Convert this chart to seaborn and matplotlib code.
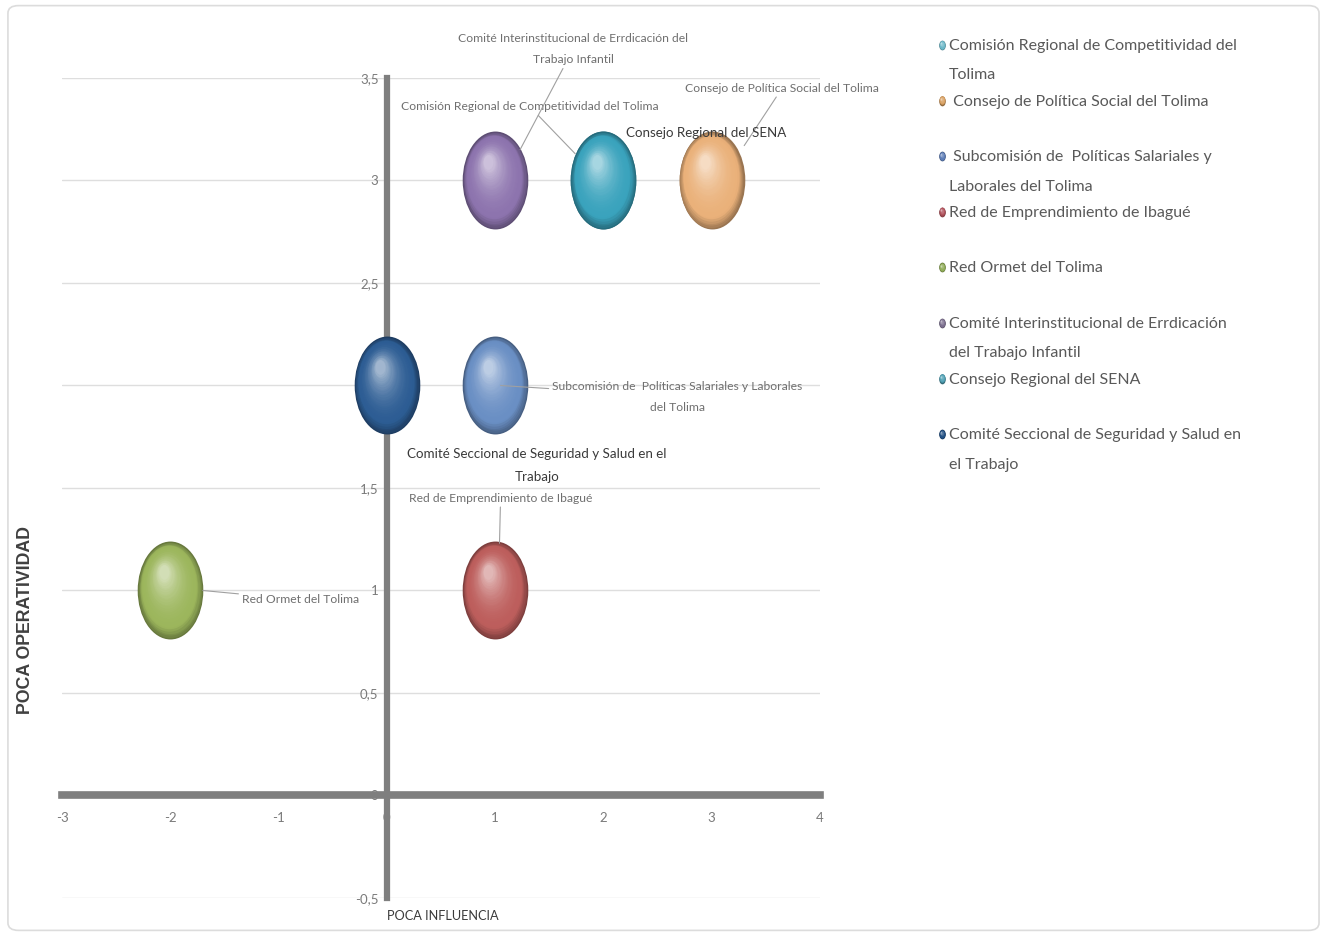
import numpy as np
import pandas as pd
import matplotlib
matplotlib.use("Agg")
import matplotlib.pyplot as plt
import seaborn as sns
from matplotlib.path import Path
from matplotlib.transforms import Affine2D, ScaledTranslation
from matplotlib.patches import FancyBboxPatch
from matplotlib import font_manager as fm
import matplotlib.colors as mcolors

# ---------------- data ----------------
names = [
    "Comisión Regional de Competitividad del Tolima",
    "Consejo de Política Social del Tolima",
    "Subcomisión de  Políticas Salariales y Laborales del Tolima",
    "Red de Emprendimiento de Ibagué",
    "Red Ormet del Tolima",
    "Comité Interinstitucional de Errdicación del Trabajo Infantil",
    "Consejo Regional del SENA",
    "Comité Seccional de Seguridad y Salud en el Trabajo",
]
influencia = [2, 3, 1, 1, -2, 1, 2, 0]
operatividad = [3, 3, 2, 1, 1, 3, 3, 2]
bubble_colors = ["#5fbdd2", "#eab17a", "#6a8fc4", "#bd5e5c", "#9cb65c",
                 "#8d74ae", "#3aa3bd", "#2d5d94"]
legend_labels = [
    "Comisión Regional de Competitividad del\nTolima",
    " Consejo de Política Social del Tolima",
    " Subcomisión de  Políticas Salariales y\nLaborales del Tolima",
    "Red de Emprendimiento de Ibagué",
    "Red Ormet del Tolima",
    "Comité Interinstitucional de Errdicación\ndel Trabajo Infantil",
    "Consejo Regional del SENA",
    "Comité Seccional de Seguridad y Salud en\nel Trabajo",
]
legend_colors = ["#6cb8c8", "#d9a060", "#5b7bb5", "#b0505a", "#8eaa55",
                 "#7b6e8e", "#4d9fb3", "#1f4e82"]
x_ticks = [-3, -2, -1, 0, 1, 2, 3, 4]
y_ticks = [-0.5, 0, 0.5, 1, 1.5, 2, 2.5, 3, 3.5]
y_tick_labels = ["-0,5", "0", "0,5", "1", "1,5", "2", "2,5", "3", "3,5"]
x_label = "POCA INFLUENCIA"
y_label = "POCA OPERATIVIDAD"

# data-label layout (text position, leader target offset from bubble, style)
label_texts = [
    "Comisión Regional de Competitividad del Tolima",
    "Consejo de Política Social del Tolima",
    "Subcomisión de  Políticas Salariales y Laborales\ndel Tolima",
    "Red de Emprendimiento de Ibagué",
    "Red Ormet del Tolima",
    "Comité Interinstitucional de Errdicación del\nTrabajo Infantil",
    "Consejo Regional del SENA",
    "Comité Seccional de Seguridad y Salud en el\nTrabajo",
]
label_pos = [(1.32, 3.36), (3.65, 3.45), (2.68, 1.945), (1.05, 1.45),
             (-0.80, 0.955), (1.72, 3.64), (2.95, 3.23), (1.385, 1.61)]
leader_off = [(-0.26, 0.13), (0.30, 0.17), (0.05, 0.0), (0.04, 0.23),
              (0.30, 0.0), (0.23, 0.15), None, None]
label_strong = [False, False, False, False, False, False, True, True]

# ---------------- fonts ----------------
avail = {f.name for f in fm.fontManager.ttflist}
narrow = "Lato" if "Lato" in avail else "DejaVu Sans"
wide = "Liberation Sans" if "Liberation Sans" in avail else "DejaVu Sans"

sns.set_theme(style="white")
plt.rcParams["font.family"] = [narrow, "DejaVu Sans"]

fig = plt.figure(figsize=(13.23, 9.36), dpi=100)
fig.patch.set_facecolor("white")
fig.patches.append(FancyBboxPatch((0.006, 0.006), 0.991, 0.988,
                                  boxstyle="round,pad=0,rounding_size=0.008",
                                  transform=fig.transFigure, facecolor="none",
                                  edgecolor="#dcdcdc", lw=1.2))

ax = fig.add_axes([0.0469, 0.0406, 0.5729, 0.8761])
df = pd.DataFrame({"name": names, "x": influencia, "y": operatividad})

# ellipse marker
circle = Path.unit_circle()
ell = Affine2D().scale(0.67, 1.0).transform_path(circle)

H_PT = 70.5


def shade(c, t):
    rgb = np.array(mcolors.to_rgb(c))
    dark = rgb * 0.66
    light = rgb + (1 - rgb) * 0.55
    if t < 0.18:
        u = t / 0.18
        return tuple(dark + (rgb - dark) * u)
    u = (t - 0.18) / 0.82
    return tuple(rgb + (light - rgb) * u ** 2.0)


def draw_spheres(axx, xs, ys, cols, hpt, nlayer, z0, use_sns=False, data=None):
    s0 = hpt ** 2
    wpt = hpt * 0.67
    for k in range(nlayer):
        t = k / (nlayer - 1)
        f = 1 - 0.85 * t
        dx = -(1 - f) * 0.12 * wpt / 72
        dy = (1 - f) * 0.22 * hpt / 72
        tr = axx.transData + ScaledTranslation(dx, dy, fig.dpi_scale_trans)
        cs = [shade(c, t) for c in cols]
        if use_sns and k == 0:
            sns.scatterplot(data=data, x="x", y="y", hue="name",
                            palette=dict(zip(data["name"], cs)),
                            marker=ell, s=s0, linewidth=0, ax=axx,
                            legend=False, zorder=z0, clip_on=False)
        else:
            axx.scatter(xs, ys, s=s0 * f * f, c=cs, marker=ell, linewidths=0,
                        transform=tr, zorder=z0 + k * 0.01, clip_on=False)


# draw bubbles in series order so later series sit on top
for i in range(len(names)):
    draw_spheres(ax, [influencia[i]], [operatividad[i]], [bubble_colors[i]],
                 H_PT, 30, 3 + i, use_sns=True, data=df.iloc[[i]])

ax.set_xlim(-3, 4)
ax.set_ylim(-0.5, 3.5)
ax.set_xticks(x_ticks)
ax.set_xticklabels([str(v) for v in x_ticks])
ax.set_yticks(y_ticks)
ax.set_yticklabels(y_tick_labels)
for side in ["top", "right"]:
    ax.spines[side].set_visible(False)
ax.spines["left"].set_position(("data", 0))
ax.spines["bottom"].set_position(("data", 0))
ax.spines["left"].set_linewidth(4.5)
ax.spines["bottom"].set_linewidth(5.5)
ax.spines["left"].set_color("#7f7f7f")
ax.spines["bottom"].set_color("#7f7f7f")
ax.spines["left"].set_zorder(2.6)
ax.spines["bottom"].set_zorder(2.6)
ax.yaxis.grid(True, color="#dedede", lw=1.0)
ax.xaxis.grid(False)
ax.set_axisbelow(True)
ax.tick_params(axis="both", length=3, width=1, color="#8a8a8a",
               labelcolor="#7a7a7a", labelsize=9.5, pad=3)
ax.tick_params(axis="x", pad=9)
ax.set_xlabel("")
ax.set_ylabel("")

# data labels
for i in range(len(names)):
    tx, ty = label_pos[i]
    col = "#3a3a3a" if label_strong[i] else "#6f6f6f"
    fs = 9.6 if label_strong[i] else 8.7
    if leader_off[i] is None:
        ax.text(tx, ty, label_texts[i], ha="center", va="center", fontsize=fs,
                color=col, zorder=20, linespacing=2.1, clip_on=False)
    else:
        ox, oy = leader_off[i]
        ax.annotate(label_texts[i],
                    xy=(influencia[i] + ox, operatividad[i] + oy),
                    xytext=(tx, ty), textcoords="data",
                    ha="center", va="center", fontsize=fs, color=col,
                    zorder=20, linespacing=2.1, annotation_clip=False,
                    arrowprops=dict(arrowstyle="-", color="#a0a0a0", lw=0.8,
                                    shrinkA=0, shrinkB=0))

# axis titles
fig.text(0.019, 0.3376, y_label, rotation=90, ha="center", va="center",
         fontsize=12.8, fontweight="bold", color="#404040", family=[wide, "DejaVu Sans"])
ax.text(0.0, -0.5, x_label, ha="left", va="top", fontsize=9.2, color="#3a3a3a",
        transform=ax.transData + ScaledTranslation(0, -9 / 72, fig.dpi_scale_trans),
        clip_on=False)

# legend (manual, to keep marker on the first line of each entry)
lax = fig.add_axes([0, 0, 1, 1], zorder=30)
lax.set_xlim(0, 1323)
lax.set_ylim(936, 0)
lax.axis("off")
lax.patch.set_alpha(0)
for i, (lab, c) in enumerate(zip(legend_labels, legend_colors)):
    yy = 45 + 55.6 * i
    draw_spheres(lax, [942], [yy], [c], 7.0, 10, 31)
    lax.text(949, yy - 6, lab, ha="left", va="top", fontsize=11.5,
             color="#595959", linespacing=2.4)

fig.savefig("out.png", dpi=100, facecolor="white")
